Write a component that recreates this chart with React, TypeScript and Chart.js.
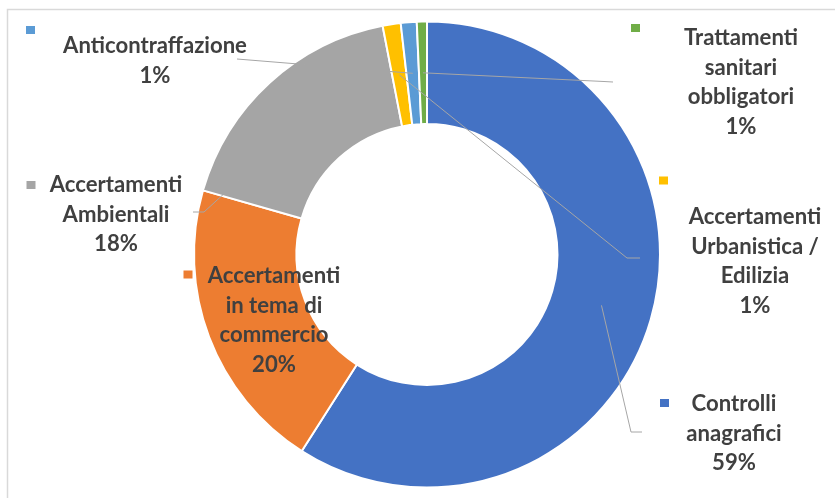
import React, { useEffect, useRef } from 'react';
import { Chart, registerables } from 'chart.js';

Chart.register(...registerables);

// ---- data ----
const categories = [
  'Controlli anagrafici',
  'Accertamenti in tema di commercio',
  'Accertamenti Ambientali',
  'Accertamenti Urbanistica / Edilizia',
  'Anticontraffazione',
  'Trattamenti sanitari obbligatori',
];
const values = [59.0, 20.4, 17.5, 1.25, 1.1, 0.7];
const labelLines = [
  ['Controlli', 'anagrafici'],
  ['Accertamenti', 'in tema di', 'commercio'],
  ['Accertamenti', 'Ambientali'],
  ['Accertamenti', 'Urbanistica /', 'Edilizia'],
  ['Anticontraffazione'],
  ['Trattamenti', 'sanitari', 'obbligatori'],
];
const colors = ['#4472C4', '#ED7D31', '#A5A5A5', '#FFC000', '#5B9BD5', '#70AD47'];

// ---- label layout (canvas pixels) ----
type Layout = { x: number; y: number; marker: [number, number]; leader: [number, number][] | null };
const labelLayout: Layout[] = [
  { x: 734, y: 404, marker: [664.5, 403], leader: [[631, 432], [642, 432]] },
  { x: 274, y: 276, marker: [188, 274.5], leader: null },
  { x: 116, y: 185, marker: [31, 185], leader: [[204, 212], [193, 212]] },
  { x: 755, y: 217, marker: [663.5, 180.5], leader: [[627, 258], [640, 258]] },
  { x: 155, y: 46, marker: [30.5, 30], leader: [[237, 59]] },
  { x: 741, y: 38, marker: [635.5, 28], leader: [[604, 81.5], [613, 82]] },
];
const LINE_H = 29.5;
const FONT_FAMILY = 'Lato, "Open Sans", sans-serif';

const labelPlugin = {
  id: 'excelLabels',
  afterDatasetsDraw(chart: any) {
    const ctx = chart.ctx as CanvasRenderingContext2D;
    const meta = chart.getDatasetMeta(0);
    const total = values.reduce((a, b) => a + b, 0);
    ctx.save();
    // frame
    ctx.strokeStyle = '#D9D9D9';
    ctx.lineWidth = 1.5;
    ctx.beginPath();
    ctx.moveTo(7.5, chart.height + 5);
    ctx.lineTo(7.5, 9.5);
    ctx.lineTo(chart.width + 5, 9.5);
    ctx.stroke();

    // font fit
    ctx.font = `bold 20px ${FONT_FAMILY}`;
    const w = ctx.measureText('Anticontraffazione').width;
    const size = (20 * 184) / w;
    ctx.font = `bold ${size.toFixed(2)}px ${FONT_FAMILY}`;

    meta.data.forEach((arc: any, i: number) => {
      const lay = labelLayout[i];
      const { x, y, startAngle, endAngle, innerRadius, outerRadius } = arc.getProps(
        ['x', 'y', 'startAngle', 'endAngle', 'innerRadius', 'outerRadius'],
        true
      );
      const mid = (startAngle + endAngle) / 2;
      const r = (innerRadius + outerRadius) / 2;
      const ax = x + Math.cos(mid) * r;
      const ay = y + Math.sin(mid) * r;
      if (lay.leader) {
        ctx.strokeStyle = '#A6A6A6';
        ctx.lineWidth = 1;
        ctx.beginPath();
        ctx.moveTo(ax, ay);
        lay.leader.forEach((p) => ctx.lineTo(p[0], p[1]));
        ctx.stroke();
      }
      // marker
      ctx.fillStyle = colors[i];
      ctx.fillRect(lay.marker[0] - 4.5, lay.marker[1] - 4, 9, 8);
      // text
      const pct = Math.round((values[i] / total) * 100) + '%';
      const lines = [...labelLines[i], pct];
      ctx.fillStyle = '#404040';
      ctx.textAlign = 'center';
      ctx.textBaseline = 'middle';
      lines.forEach((t, k) => ctx.fillText(t, lay.x, lay.y + k * LINE_H));
    });
    ctx.restore();
  },
};

export default function App() {
  const ref = useRef<HTMLCanvasElement>(null);
  useEffect(() => {
    document.body.style.margin = '0';
    const chart = new Chart(ref.current!, {
      type: 'doughnut',
      data: {
        labels: categories,
        datasets: [
          {
            data: values,
            backgroundColor: colors,
            borderColor: '#FFFFFF',
            borderWidth: 2,
            hoverOffset: 0,
          },
        ],
      },
      options: {
        animation: false,
        responsive: false,
        cutout: '56%',
        layout: { padding: { left: 193, right: 174, top: 20.5, bottom: 9.5 } },
        plugins: { legend: { display: false }, tooltip: { enabled: false } },
      },
      plugins: [labelPlugin],
    });
    return () => chart.destroy();
  }, []);
  return (
    <div style={{ position: 'absolute', left: 0, top: 0, width: 835, height: 498, background: '#fff' }}>
      <canvas ref={ref} width={835} height={498} />
    </div>
  );
}
